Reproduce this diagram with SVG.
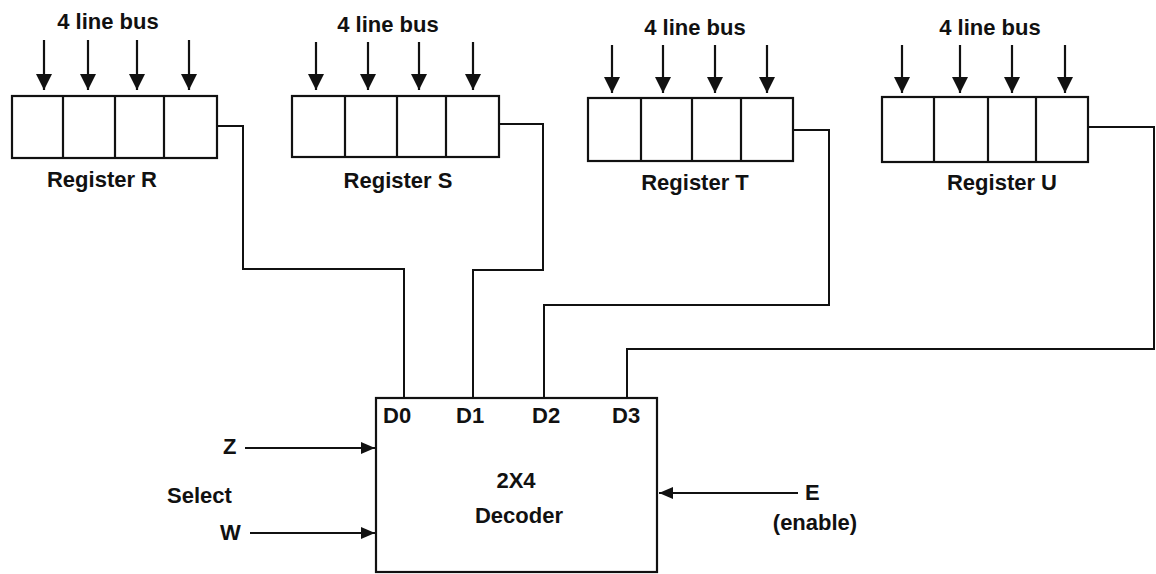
<svg xmlns="http://www.w3.org/2000/svg" width="1156" height="574" viewBox="0 0 1156 574">
<style>
text{font-family:"Liberation Sans",Arial,sans-serif;font-weight:bold;fill:#111;font-size:22px;}
.t{text-anchor:middle;}
.box{fill:none;stroke:#111;stroke-width:2.2;}
.w{fill:none;stroke:#111;stroke-width:2;}
.bus{fill:none;stroke:#111;stroke-width:2.2;marker-end:url(#b);}
.ah{fill:#111;}
</style>
<defs>
<marker id="a" viewBox="0 0 14 12" refX="14" refY="6" markerWidth="14" markerHeight="12" markerUnits="userSpaceOnUse" orient="auto"><path d="M0,0 L14,6 L0,12 Z" class="ah"/></marker>
<marker id="b" viewBox="0 0 16 16" refX="16" refY="8" markerWidth="16" markerHeight="16" markerUnits="userSpaceOnUse" orient="auto"><path d="M0,0 L16,8 L0,16 Z" class="ah"/></marker>
</defs>
<g id="regR">
<text class="t" x="108" y="29">4 line bus</text>
<rect class="box" x="12" y="96" width="205" height="62"/>
<path class="box" d="M63,96V158M115,96V158M164,96V158"/>
<path class="bus" d="M44,40V90"/><path class="bus" d="M88,40V90"/><path class="bus" d="M137,40V90"/><path class="bus" d="M189,40V90"/>
<text class="t" x="102" y="187">Register R</text>
</g>
<g id="regS">
<text class="t" x="388" y="32">4 line bus</text>
<rect class="box" x="292" y="96" width="207" height="61"/>
<path class="box" d="M345,96V157M397,96V157M446,96V157"/>
<path class="bus" d="M316,42V90"/><path class="bus" d="M368,42V90"/><path class="bus" d="M419,42V90"/><path class="bus" d="M473,42V90"/>
<text class="t" x="398" y="188">Register S</text>
</g>
<g id="regT">
<text class="t" x="695" y="35">4 line bus</text>
<rect class="box" x="588" y="98" width="205" height="63"/>
<path class="box" d="M641,98V161M692,98V161M741,98V161"/>
<path class="bus" d="M612,45V93"/><path class="bus" d="M663,45V93"/><path class="bus" d="M715,45V93"/><path class="bus" d="M767,45V93"/>
<text class="t" x="695" y="190">Register T</text>
</g>
<g id="regU">
<text class="t" x="990" y="35">4 line bus</text>
<rect class="box" x="882" y="97" width="206" height="65"/>
<path class="box" d="M934,97V162M988,97V162M1036,97V162"/>
<path class="bus" d="M902,45V93"/><path class="bus" d="M960,45V93"/><path class="bus" d="M1012,45V93"/><path class="bus" d="M1065,45V93"/>
<text class="t" x="1002" y="190">Register U</text>
</g>
<g id="decoder">
<rect class="box" x="376" y="398" width="281" height="174"/>
<text x="383" y="423">D0</text>
<text x="456" y="423">D1</text>
<text x="532" y="423">D2</text>
<text x="612" y="423">D3</text>
<text class="t" x="516" y="488">2X4</text>
<text class="t" x="519" y="523">Decoder</text>
</g>
<g id="inputs">
<text x="223" y="454">Z</text>
<text x="167" y="503">Select</text>
<text x="220" y="540">W</text>
<text x="805" y="500">E</text>
<text class="t" x="815" y="530">(enable)</text>
</g>
<g id="connectors">
<path class="w" d="M217,126H243V269H404V398"/>
<path class="w" d="M499,124H543V270H473V398"/>
<path class="w" d="M793,130H829V305H544V398"/>
<path class="w" d="M1088,127H1154V349H627V398"/>
<path class="w" d="M245,448H375" marker-end="url(#a)"/>
<path class="w" d="M250,533H375" marker-end="url(#a)"/>
<path class="w" d="M798,493H659" marker-end="url(#a)"/>
</g>
</svg>
